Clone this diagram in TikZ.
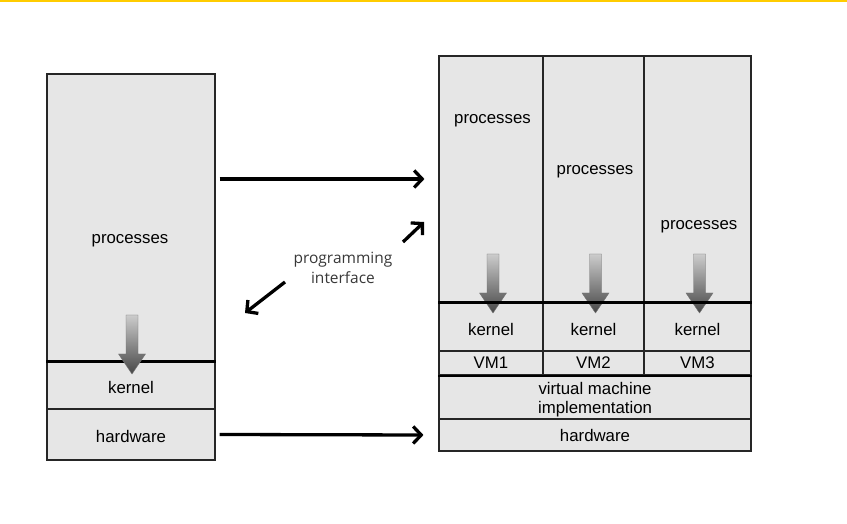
\documentclass[tikz,border=0pt]{standalone}
\usepackage{fontspec}
\setmainfont{Liberation Sans}
\newfontfamily\apifont{Open Sans}
\usetikzlibrary{arrows.meta}

\definecolor{layergray}{HTML}{E6E6E6}
\definecolor{topyellow}{HTML}{FFCC00}

% shaded call arrow: #1 = x of axis, #2 = y of top
\newcommand{\callarrow}[2]{%
  \shadedraw[top color=gray!40, bottom color=black!72, draw=black!55, line width=0.4pt]
    (#1,#2) ++(-6,0) -- ++(12,0) -- ++(0,-39) -- ++(7.5,0) -- ++(-13.5,-20)
    -- ++(-13.5,20) -- ++(7.5,0) -- cycle;}

\tikzset{
  layer/.style={draw=black!85, line width=1.1pt, fill=layergray, inner sep=0pt,
    font=\fontsize{16.8}{19}\selectfont, text height=16pt, text depth=0pt},
  layertext/.style={font=\fontsize{16.8}{19}\selectfont},
  bigarrow/.style={-{Straight Barb[length=8pt,width=17pt]}, line width=3.3pt},
  boundary/.style={line width=3pt},
}

\begin{document}
\begin{tikzpicture}[x=1pt,y=1pt]
  \useasboundingbox (0,0) rectangle (847,523);

  % top rule
  \fill[topyellow] (0,521) rectangle (847,523);

  % Non-virtual machine
  \node[layer, minimum width=168, minimum height=287] (lproc) at (131,305.5) {};
  \node[layer, minimum width=168, minimum height=48] (lkern) at (131,138) {kernel};
  \node[layer, minimum width=168, minimum height=51] (lhw) at (131,88.5) {hardware};
  \draw[boundary] (lproc.south west) -- (lproc.south east);
  \node[layertext] (lproctext) at (130,282) {processes};
  \callarrow{132}{208}

  % Virtual machines
  \foreach \i/\x/\w/\ty in {1/491/104/402, 2/593.5/101/351, 3/697.5/107/296} {
    \node[layer, minimum width=\w, minimum height=246] (proc\i) at (\x,344) {};
    \node[layer, minimum width=\w, minimum height=49, text height=19pt] (kern\i) at (\x,196.5) {kernel};
    \node[layer, minimum width=\w, minimum height=24, text height=12pt] (vm\i) at (\x,160) {VM\i};
    \node[layertext] (proctext\i) at (\x+1.5,\ty) {processes};
    \callarrow{\x+2}{269}
  }
  \draw[boundary] (proc1.south west) -- (proc3.south east);

  % Virtual machine implementation and hardware
  \node[layer, minimum width=312, minimum height=44] (vmimpl) at (595,126) {};
  \node[layertext, align=center] (vmimpltext) at (595,123.5) {virtual machine\\implementation};
  \node[layer, minimum width=312, minimum height=32, text height=12pt] (rhw) at (595,88) {hardware};
  \draw[line width=2pt] (vm1.south west) -- (vm3.south east);

  % Mapping arrows
  \draw[bigarrow] ([xshift=4pt]lproc.east |- proc1.west) -- ([xshift=-14pt]proc1.west);
  \draw[bigarrow] ([xshift=4pt]lhw.east) -- ([xshift=-15pt]rhw.west);

  % Programming interface
  \node[font=\apifont\fontsize{15.5}{20}\selectfont, text=black!78, align=center] (api) at (343,255) {programming\\interface};
  \coordinate (apiupfrom) at (403,281);
  \coordinate (apiup) at (424,301);
  \coordinate (apidownfrom) at (285,241);
  \coordinate (apidown) at (245,210);
  \draw[bigarrow] (apiupfrom) -- (apiup);
  \draw[bigarrow] (apidownfrom) -- (apidown);
\end{tikzpicture}
\end{document}
